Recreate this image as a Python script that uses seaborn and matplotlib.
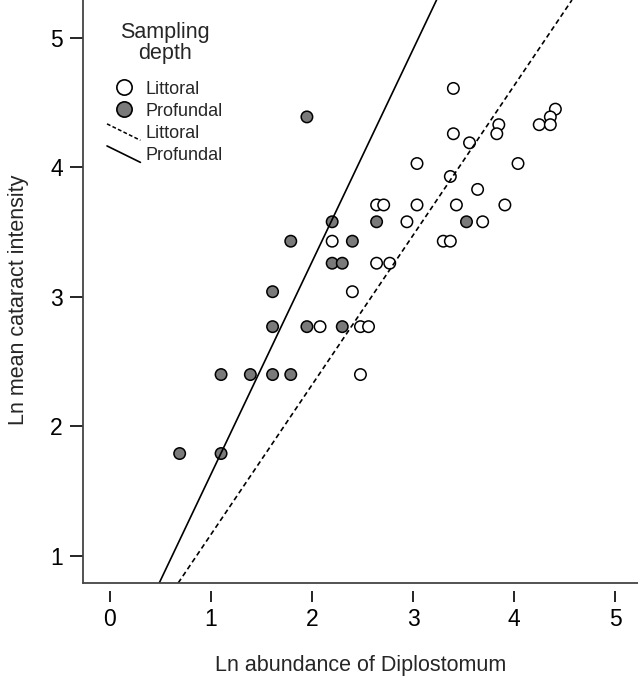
import numpy as np
import pandas as pd
import matplotlib
matplotlib.use("Agg")
import matplotlib.pyplot as plt
from matplotlib.lines import Line2D
from matplotlib.legend_handler import HandlerLine2D
import seaborn as sns

# values (ln scale)
littoral_x = [3.40, 4.41, 4.36, 4.25, 4.36, 3.85, 3.83, 3.40, 3.56, 3.04,
              4.04, 3.37, 3.64, 2.64, 2.71, 3.04, 3.43, 3.91, 2.94, 3.69,
              2.20, 3.30, 3.37, 2.64, 2.77, 2.40, 2.08, 2.48, 2.56, 2.48]
littoral_y = [4.61, 4.45, 4.39, 4.33, 4.33, 4.33, 4.26, 4.26, 4.19, 4.03,
              4.03, 3.93, 3.83, 3.71, 3.71, 3.71, 3.71, 3.71, 3.58, 3.58,
              3.43, 3.43, 3.43, 3.26, 3.26, 3.04, 2.77, 2.77, 2.77, 2.40]
profundal_x = [1.95, 2.20, 1.79, 2.40, 2.20, 2.30, 2.64, 3.53, 1.61,
               1.61, 1.95, 2.30, 1.10, 1.39, 1.61, 1.79, 0.69, 1.10]
profundal_y = [4.39, 3.58, 3.43, 3.43, 3.26, 3.26, 3.58, 3.58, 3.04,
               2.77, 2.77, 2.77, 2.40, 2.40, 2.40, 2.40, 1.79, 1.79]

depths = ["Littoral", "Profundal"]
fit_intercept = {"Littoral": 0.01, "Profundal": -0.01}
fit_slope = {"Littoral": 1.155, "Profundal": 1.64}

x_ticks = [0, 1, 2, 3, 4, 5]
y_ticks = [1, 2, 3, 4, 5]

df = pd.DataFrame({
    "abundance": littoral_x + profundal_x,
    "cataract": littoral_y + profundal_y,
    "depth": ["Littoral"] * len(littoral_x) + ["Profundal"] * len(profundal_x),
})

GREY = "#7a7a7a"
AXCOL = "#444444"


class HandlerDiagonal(HandlerLine2D):
    "legend line drawn as a falling diagonal"
    def create_artists(self, legend, orig_handle, xdescent, ydescent,
                       width, height, fontsize, trans):
        line = Line2D([-xdescent, -xdescent + width],
                      [-ydescent + height * 1.1, -ydescent - height * 0.2])
        self.update_prop(line, orig_handle, legend)
        line.set_transform(trans)
        return [line]


sns.set_style("ticks")
plt.rcParams["font.family"] = ["Liberation Sans", "DejaVu Sans"]

fig = plt.figure(figsize=(6.38, 6.77), dpi=100)
ax = fig.add_axes([83 / 638, 94 / 677, 555 / 638, 583 / 677])

sns.scatterplot(data=df, x="abundance", y="cataract", hue="depth",
                palette={"Littoral": "white", "Profundal": GREY},
                edgecolor="black", linewidth=1.1, s=68, legend=False,
                ax=ax, zorder=2)

styles = {"Littoral": (0, (3, 2)), "Profundal": "-"}
for d in depths:
    ax.axline((0, fit_intercept[d]), slope=fit_slope[d], color="black",
              lw=1.2, ls=styles[d], zorder=3)

ax.set_xlim(-0.267, 5.228)
ax.set_ylim(0.79, 5.293)
ax.set_xticks(x_ticks)
ax.set_yticks(y_ticks)

ax.spines[["top", "right"]].set_visible(False)
ax.spines["left"].set_color(AXCOL)
ax.spines["left"].set_linewidth(1.3)
# x ticks sit detached below the axis line
ax.spines["bottom"].set_position(("outward", 6))
ax.spines["bottom"].set_visible(False)
ax.axhline(0.79, color=AXCOL, lw=1.3, clip_on=False, zorder=4)

ax.tick_params(axis="y", length=9.5, width=1.2, pad=5, labelsize=16.5, colors="black")
ax.tick_params(axis="x", length=8, width=1.2, pad=4, labelsize=16.5, colors="black")

ax.set_xlabel("Ln abundance of Diplostomum", fontsize=15.5, va="center")
ax.xaxis.set_label_coords(0.5, (583 - 666) / 583)
ax.set_ylabel("Ln mean cataract intensity", fontsize=15.5, va="center")
ax.yaxis.set_label_coords((18 - 83) / 555, 0.485)

h_lit = Line2D([], [], marker="o", ls="none", mfc="white", mec="black", ms=11, mew=1.2)
h_pro = Line2D([], [], marker="o", ls="none", mfc=GREY, mec="black", ms=11, mew=1.2)
l_lit = Line2D([], [], color="black", lw=1.1, ls=(0, (2.5, 1.5)))
l_pro = Line2D([], [], color="black", lw=1.2)

leg = ax.legend(handles=[h_lit, h_pro, l_lit, l_pro],
                labels=["Littoral", "Profundal", "Littoral", "Profundal"],
                title="Sampling\ndepth", title_fontsize=15.5, fontsize=13,
                frameon=False, loc="upper left", alignment="center",
                bbox_to_anchor=(107 / 638, 1 - 22 / 677), bbox_transform=fig.transFigure,
                borderpad=0, borderaxespad=0, handlelength=1.85, handletextpad=0.3,
                labelspacing=0.28,
                handler_map={l_lit: HandlerDiagonal(), l_pro: HandlerDiagonal()})
leg.get_title().set_multialignment("center")
leg.get_title().set_linespacing(1.0)
leg._legend_box.sep = 12

fig.savefig("out.png", dpi=100)
